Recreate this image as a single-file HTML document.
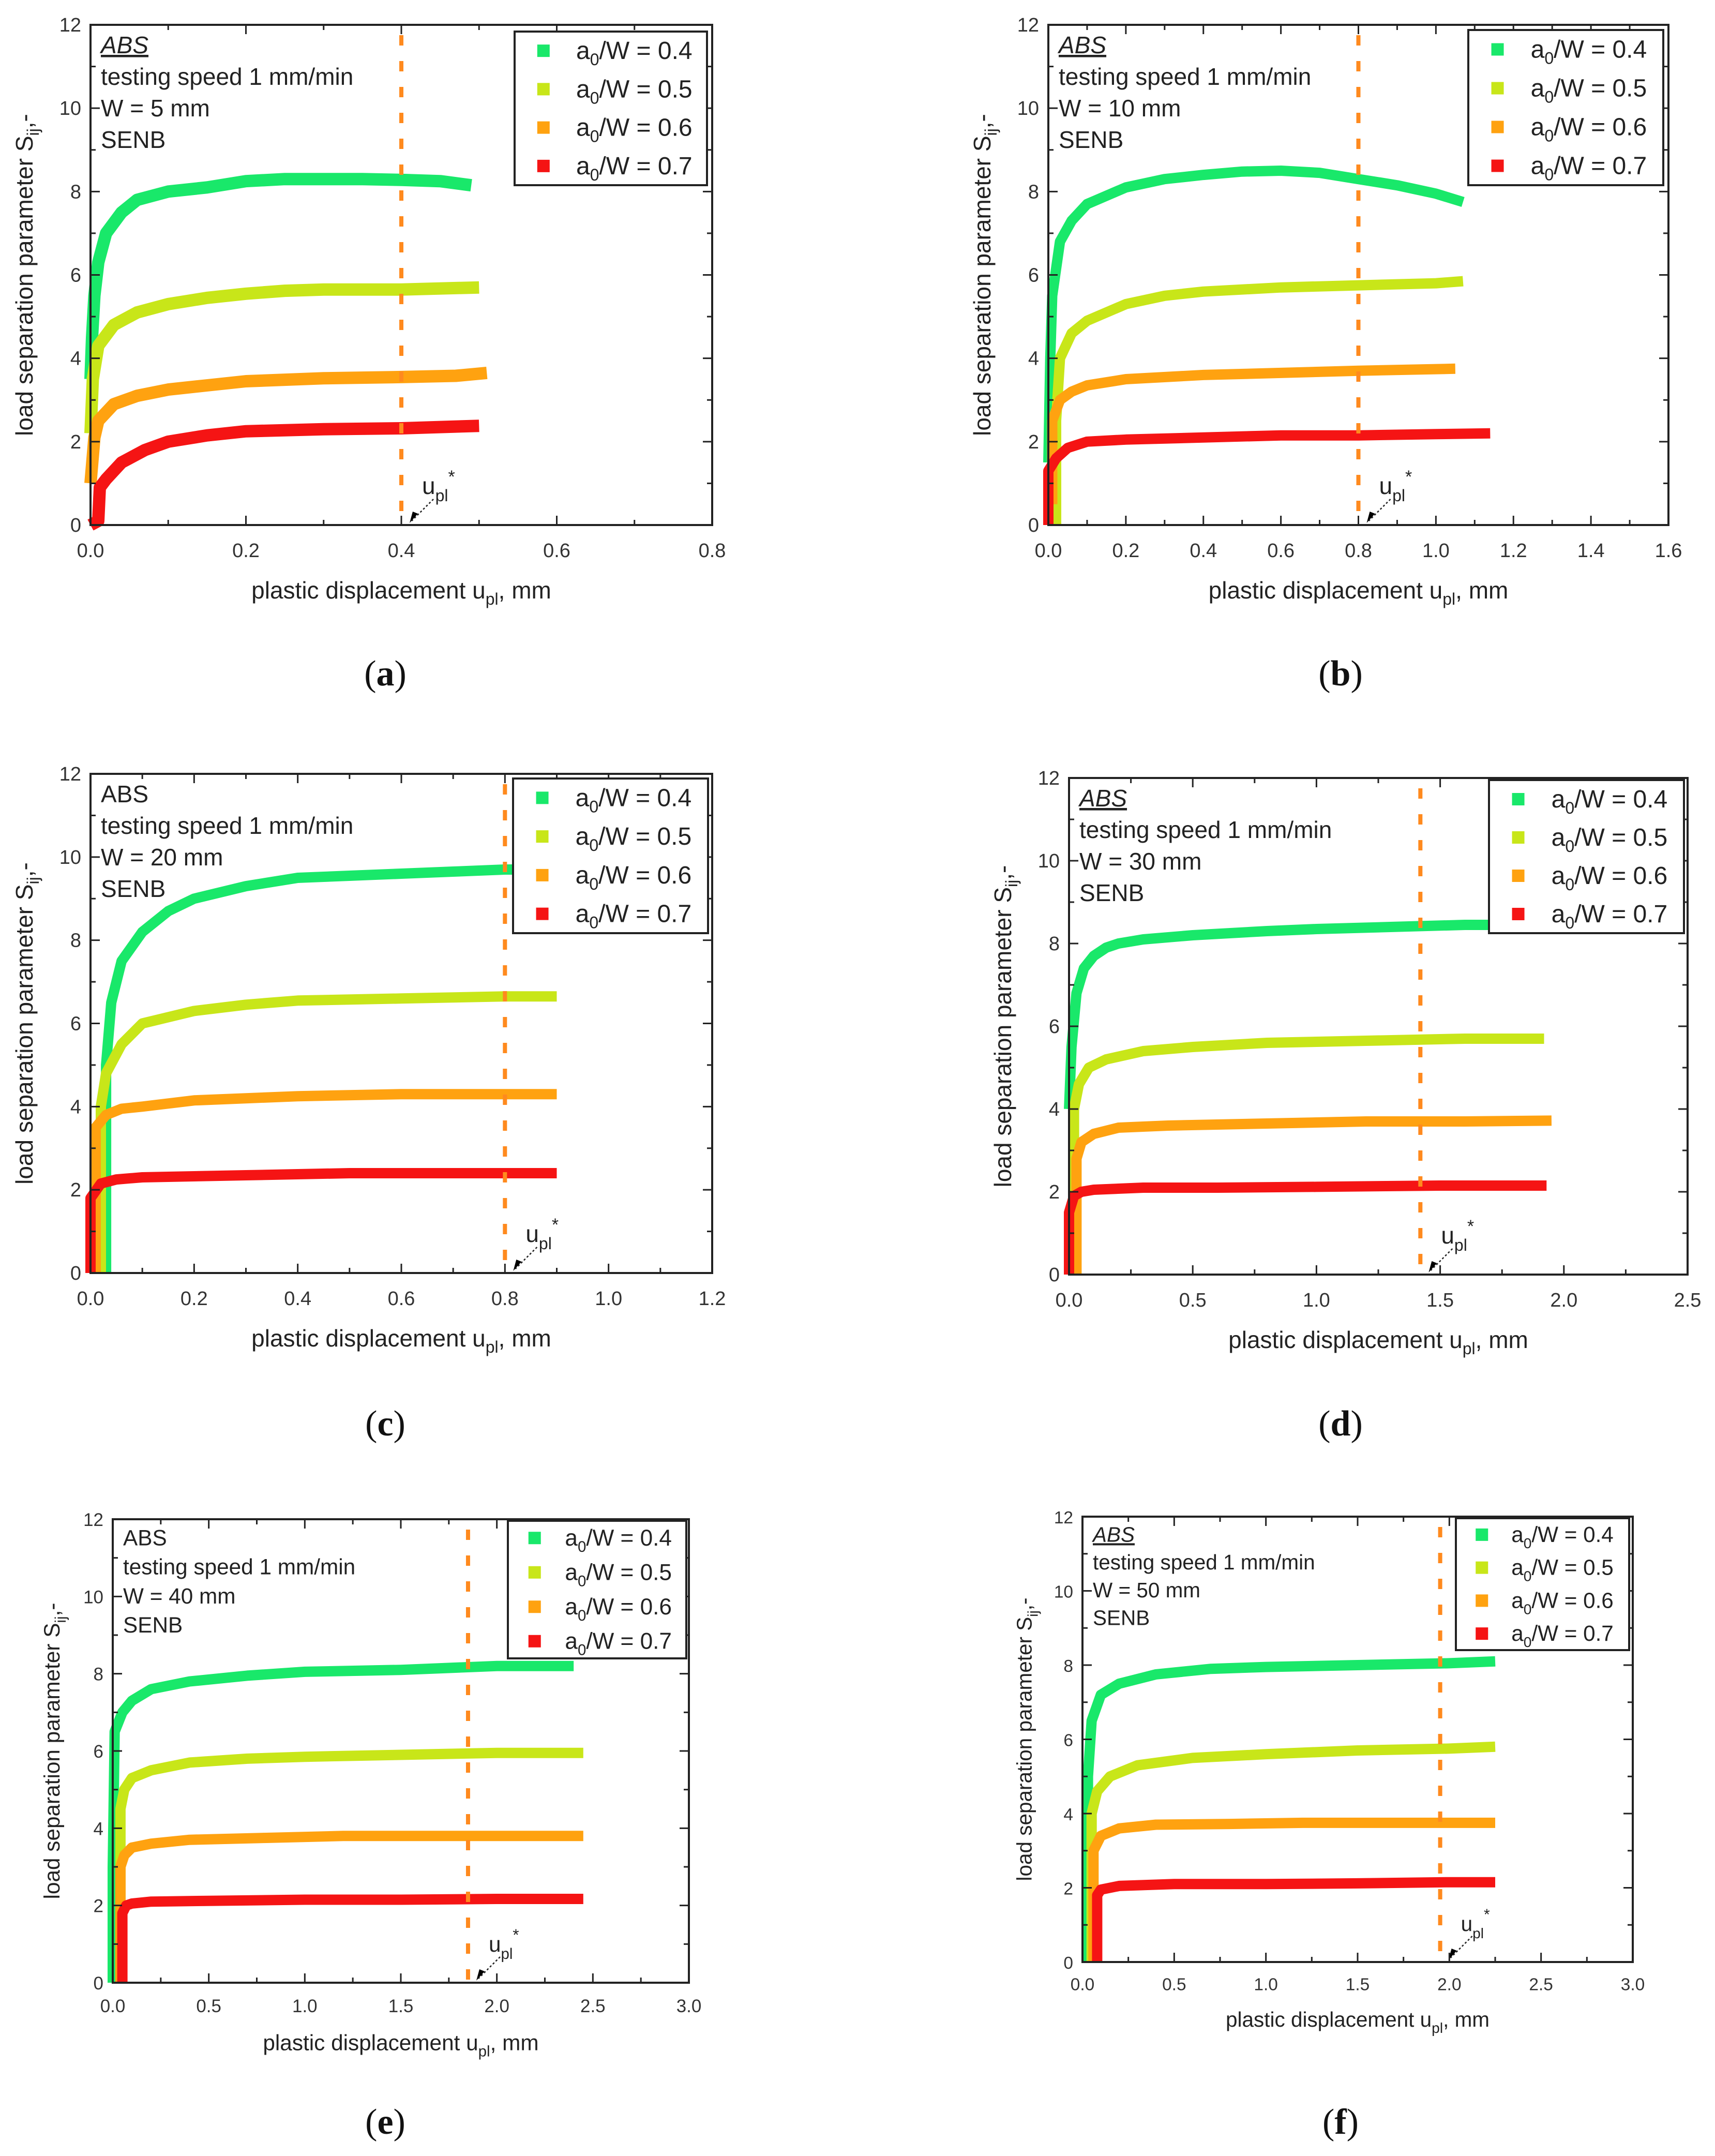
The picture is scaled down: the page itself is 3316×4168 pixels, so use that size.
<!DOCTYPE html>
<html><head><meta charset="utf-8"><style>
html,body{margin:0;padding:0;background:#fff;}
svg{display:block;}
text{font-family:"Liberation Sans",sans-serif;}
text.cap{font-family:"Liberation Serif",serif;}
</style></head>
<body>
<svg id="fig" width="3316" height="4168" viewBox="0 0 3316 4168" xmlns="http://www.w3.org/2000/svg"></svg>
<script>
// ---- data ----
const seriesLabels = ["0.4","0.5","0.6","0.7"];
const seriesColors = ["#19e86a","#c8e619","#ffa210","#f51414"];

const aX0=[0,0.002,0.005,0.01,0.02,0.04,0.06,0.1,0.15,0.2,0.25,0.3,0.35,0.4,0.45,0.49];
const aY0=[3.5,4.5,5.5,6.3,7.0,7.5,7.8,8.0,8.1,8.25,8.3,8.3,8.3,8.28,8.25,8.15];
const aX1=[0,0.003,0.01,0.03,0.06,0.1,0.15,0.2,0.25,0.3,0.4,0.5];
const aY1=[2.2,3.5,4.3,4.8,5.1,5.3,5.45,5.55,5.62,5.65,5.65,5.7];
const aX2=[0,0.005,0.01,0.03,0.06,0.1,0.15,0.2,0.3,0.4,0.47,0.51];
const aY2=[1,2.1,2.5,2.9,3.1,3.25,3.35,3.45,3.52,3.55,3.58,3.65];
const aX3=[0,0.01,0.012,0.02,0.04,0.07,0.1,0.15,0.2,0.3,0.4,0.5];
const aY3=[0,0.1,0.9,1.1,1.5,1.8,2.0,2.15,2.25,2.3,2.32,2.38];

const bX0=[0,0.005,0.01,0.03,0.06,0.1,0.2,0.3,0.4,0.5,0.6,0.7,0.8,0.9,1.0,1.07];
const bY0=[1.5,4,5.5,6.8,7.3,7.7,8.1,8.3,8.4,8.48,8.5,8.45,8.3,8.15,7.95,7.75];
const bX1=[0.02,0.02,0.03,0.06,0.1,0.2,0.3,0.4,0.6,0.8,1.0,1.07];
const bY1=[0,2.5,4,4.6,4.9,5.3,5.5,5.6,5.7,5.75,5.8,5.85];
const bX2=[0.01,0.01,0.03,0.06,0.1,0.2,0.4,0.6,0.8,1.05];
const bY2=[0.5,2.5,3,3.2,3.35,3.5,3.6,3.65,3.7,3.75];
const bX3=[0,0,0.02,0.05,0.1,0.2,0.4,0.6,0.8,1.0,1.14];
const bY3=[0,1.3,1.6,1.85,2.0,2.05,2.1,2.15,2.15,2.18,2.2];

const cX0=[0.03,0.03,0.04,0.06,0.1,0.15,0.2,0.3,0.4,0.5,0.6,0.7,0.8,0.83];
const cY0=[0,5,6.5,7.5,8.2,8.7,9.0,9.3,9.5,9.55,9.6,9.65,9.7,9.7];
const cX1=[0.02,0.02,0.03,0.06,0.1,0.2,0.3,0.4,0.6,0.8,0.9];
const cY1=[0,4,4.8,5.5,6.0,6.3,6.45,6.55,6.6,6.65,6.65];
const cX2=[0.01,0.01,0.03,0.06,0.1,0.2,0.4,0.6,0.8,0.9];
const cY2=[0,3.5,3.8,3.95,4.0,4.15,4.25,4.3,4.3,4.3];
const cX3=[0,0,0.02,0.05,0.1,0.3,0.5,0.7,0.9];
const cY3=[0,1.8,2.15,2.25,2.3,2.35,2.4,2.4,2.4];

const dX0=[0,0.01,0.03,0.06,0.1,0.15,0.2,0.3,0.5,0.8,1.0,1.3,1.6,1.7];
const dY0=[4,5.5,6.8,7.4,7.7,7.9,8.0,8.1,8.2,8.3,8.35,8.4,8.45,8.45];
const dX1=[0.02,0.02,0.04,0.08,0.15,0.3,0.5,0.8,1.2,1.6,1.92];
const dY1=[1.8,4.0,4.6,5.0,5.2,5.4,5.5,5.6,5.65,5.7,5.7];
const dX2=[0.03,0.03,0.05,0.1,0.2,0.4,0.8,1.2,1.6,1.95];
const dY2=[0,2.8,3.2,3.4,3.55,3.6,3.65,3.7,3.7,3.72];
const dX3=[0,0,0.02,0.05,0.1,0.3,0.6,1.0,1.5,1.93];
const dY3=[0,1.5,1.9,2.0,2.05,2.1,2.1,2.12,2.15,2.15];

const eX0=[0,0,0.01,0.05,0.1,0.2,0.4,0.7,1.0,1.5,2.0,2.4];
const eY0=[0,3,6.5,7.0,7.3,7.6,7.8,7.95,8.05,8.1,8.2,8.2];
const eX1=[0.04,0.04,0.06,0.1,0.2,0.4,0.7,1.0,1.5,2.0,2.45];
const eY1=[0,4.5,5.0,5.3,5.5,5.7,5.8,5.85,5.9,5.95,5.95];
const eX2=[0.04,0.04,0.06,0.1,0.2,0.4,0.8,1.2,1.6,2.0,2.45];
const eY2=[0,3.0,3.3,3.5,3.6,3.7,3.75,3.8,3.8,3.8,3.8];
const eX3=[0.05,0.05,0.07,0.1,0.2,0.5,1.0,1.5,2.0,2.45];
const eY3=[0,1.8,2.0,2.05,2.1,2.12,2.15,2.15,2.17,2.17];

const fX0=[0.03,0.03,0.05,0.1,0.2,0.4,0.7,1.0,1.5,2.0,2.25];
const fY0=[0,5,6.5,7.2,7.5,7.75,7.9,7.95,8.0,8.05,8.1];
const fX1=[0.05,0.05,0.08,0.15,0.3,0.6,1.0,1.5,2.0,2.25];
const fY1=[0,4,4.6,5.0,5.3,5.5,5.6,5.7,5.75,5.8];
const fX2=[0.06,0.06,0.1,0.2,0.4,0.8,1.2,1.6,2.0,2.25];
const fY2=[0,3.0,3.4,3.6,3.7,3.72,3.75,3.75,3.75,3.75];
const fX3=[0.08,0.08,0.1,0.2,0.5,1.0,1.5,2.0,2.25];
const fY3=[0,1.8,1.95,2.05,2.1,2.1,2.12,2.15,2.15];

const xTicksA=["0.0","0.2","0.4","0.6","0.8"];
const xTicksB=["0.0","0.2","0.4","0.6","0.8","1.0","1.2","1.4","1.6"];
const xTicksC=["0.0","0.2","0.4","0.6","0.8","1.0","1.2"];
const xTicksD=["0.0","0.5","1.0","1.5","2.0","2.5"];
const xTicksEF=["0.0","0.5","1.0","1.5","2.0","2.5","3.0"];
const yTicks=["0","2","4","6","8","10","12"];
const widths=["5","10","20","30","40","50"];
const upStar=[0.4,0.8,0.8,1.42,1.85,1.95];

// ---- layout ----
const panels=[
 {id:"a",L:175,R:1377,T:48,B:1015,xmax:0.8,xt:xTicksA,X:[aX0,aX1,aX2,aX3],Y:[aY0,aY1,aY2,aY3],leg:[995,61,1367,358],ital:true,fs:1,cap:[745,1325],sq:true},
 {id:"b",L:2027,R:3226,T:48,B:1015,xmax:1.6,xt:xTicksB,X:[bX0,bX1,bX2,bX3],Y:[bY0,bY1,bY2,bY3],leg:[2839,58,3216,358],ital:true,fs:1,cap:[2592,1325]},
 {id:"c",L:175,R:1377,T:1496,B:2461,xmax:1.2,xt:xTicksC,X:[cX0,cX1,cX2,cX3],Y:[cY0,cY1,cY2,cY3],leg:[992,1505,1369,1804],ital:false,fs:1,cap:[745,2775]},
 {id:"d",L:2067,R:3263,T:1504,B:2464,xmax:2.5,xt:xTicksD,X:[dX0,dX1,dX2,dX3],Y:[dY0,dY1,dY2,dY3],leg:[2879,1508,3256,1804],ital:true,fs:1,cap:[2592,2775]},
 {id:"e",L:218,R:1332,T:2937,B:3833,xmax:3,xt:xTicksEF,X:[eX0,eX1,eX2,eX3],Y:[eY0,eY1,eY2,eY3],leg:[982,2940,1327,3206],ital:false,fs:0.92,cap:[745,4125]},
 {id:"f",L:2093,R:3157,T:2932,B:3793,xmax:3,xt:xTicksEF,X:[fX0,fX1,fX2,fX3],Y:[fY0,fY1,fY2,fY3],leg:[2815,2935,3150,3190],ital:true,fs:0.88,cap:[2592,4125]}
];
const NS="http://www.w3.org/2000/svg";
const svg=document.getElementById("fig");
function mk(tag,attrs,parent){const e=document.createElementNS(NS,tag);for(const k in attrs)e.setAttribute(k,attrs[k]);(parent||svg).appendChild(e);return e;}

panels.forEach((p,pi)=>{
 const g=mk("g",{});
 
 
 const sx=v=>p.L+(v/p.xmax)*(p.R-p.L);
 const sy=v=>p.B-(v/12)*(p.B-p.T);
 const fs=p.fs;
 p.X.forEach((xs,si)=>{
  const pts=xs.map((x,i)=>sx(x).toFixed(1)+","+sy(p.Y[si][i]).toFixed(1)).join(" ");
  const pl=mk("polyline",{points:pts,fill:"none",stroke:seriesColors[si],"stroke-width":p.sq?24:20,"stroke-linejoin":"round"},g);
  
  
 });
 const dl=mk("line",{x1:sx(upStar[pi]),x2:sx(upStar[pi]),y1:p.T+20,y2:p.B,stroke:"#ff8a1e","stroke-width":8,"stroke-dasharray":"20 30"},g);
 
 
 const ux=sx(upStar[pi]);
 const ul=mk("text",{x:ux+40,y:p.B-60,"font-size":46*fs,fill:"#222"},g);
 ul.innerHTML='u<tspan font-size="'+32*fs+'" dy="14">pl</tspan><tspan font-size="'+34*fs+'" dy="-36">*</tspan>';
 
 
 const ar=mk("line",{x1:ux+62,x2:ux+20,y1:p.B-50,y2:p.B-8,stroke:"#222","stroke-width":2.5,"stroke-dasharray":"4 4"},g);
 
 
 mk("polygon",{points:(ux+16)+","+(p.B-4)+" "+(ux+32)+","+(p.B-22)+" "+(ux+22)+","+(p.B-26)},g);
 const fr=mk("rect",{x:p.L,y:p.T,width:p.R-p.L,height:p.B-p.T,fill:"none",stroke:"#222","stroke-width":4},g);
 
 
 const nx=p.xt.length;
 for(let i=0;i<nx;i++){
  const v=p.xmax*i/(nx-1), x=sx(v);
  mk("line",{x1:x,x2:x,y1:p.B,y2:p.B-18,stroke:"#222","stroke-width":3},g);
  mk("line",{x1:x,x2:x,y1:p.T,y2:p.T+18,stroke:"#222","stroke-width":3},g);
  if(i<nx-1){const xm=sx(v+p.xmax/(nx-1)/2);
   mk("line",{x1:xm,x2:xm,y1:p.B,y2:p.B-10,stroke:"#222","stroke-width":3},g);
   mk("line",{x1:xm,x2:xm,y1:p.T,y2:p.T+10,stroke:"#222","stroke-width":3},g);}
  const t=mk("text",{x:x,y:p.B+62*fs,"font-size":38*fs,"text-anchor":"middle",fill:"#333"},g);
  t.textContent=p.xt[i];
  
  
 }
 yTicks.forEach((lab,i)=>{
  const y=sy(+lab);
  mk("line",{x1:p.L,x2:p.L+18,y1:y,y2:y,stroke:"#222","stroke-width":3},g);
  mk("line",{x1:p.R,x2:p.R-18,y1:y,y2:y,stroke:"#222","stroke-width":3},g);
  if(i<6){const ym=sy(+lab+1);
   mk("line",{x1:p.L,x2:p.L+10,y1:ym,y2:ym,stroke:"#222","stroke-width":3},g);
   mk("line",{x1:p.R,x2:p.R-10,y1:ym,y2:ym,stroke:"#222","stroke-width":3},g);}
  const t=mk("text",{x:p.L-18,y:y+13,"font-size":38*fs,"text-anchor":"end",fill:"#333"},g);
  t.textContent=lab;
  
  
 });
 const xt=mk("text",{x:(p.L+p.R)/2,y:p.B+142*fs,"font-size":46*fs,"text-anchor":"middle",fill:"#222"},g);
 xt.innerHTML='plastic displacement u<tspan font-size="'+32*fs+'" dy="12">pl</tspan><tspan dy="-12">, mm</tspan>';
 
 
 const cy=(p.T+p.B)/2, cx=p.L-112*fs;
 const yt=mk("text",{x:cx,y:cy,"font-size":46*fs,"text-anchor":"middle",fill:"#222",transform:"rotate(-90 "+cx+" "+cy+")"},g);
 yt.innerHTML='load separation parameter S<tspan font-size="'+32*fs+'" dy="12">ij</tspan><tspan dy="-12">,-</tspan>';
 
 
 const ax=p.L+20, ay=p.T+55*fs, lh=61*fs;
 const abs=mk("text",{x:ax,y:ay,"font-size":46*fs,fill:"#222","font-style":p.ital?"italic":"normal","text-decoration":p.ital?"underline":"none"},g);
 abs.textContent="ABS";
 
 
 ["testing speed 1 mm/min","W = "+widths[pi]+" mm","SENB"].forEach((s,k)=>{
  const t=mk("text",{x:ax,y:ay+lh*(k+1),"font-size":46*fs,fill:"#222"},g);
  t.textContent=s;
  
  
 });
 const [lx1,ly1,lx2,ly2]=p.leg;
 const lg=mk("g",{},g);
 
 
 mk("rect",{x:lx1,y:ly1,width:lx2-lx1,height:ly2-ly1,fill:"#fff",stroke:"#222","stroke-width":4},lg);
 const rh=(ly2-ly1)/4;
 seriesLabels.forEach((lab,si)=>{
  const ry=ly1+rh*(si+0.5);
  const e=mk("g",{},lg);
  
  
  mk("rect",{x:lx1+(lx2-lx1)*0.15-12,y:ry-12,width:24,height:24,fill:seriesColors[si]},e);
  const t=mk("text",{x:lx1+(lx2-lx1)*0.32,y:ry+16*fs,"font-size":48*fs,fill:"#222"},e);
  t.innerHTML='a<tspan font-size="'+32*fs+'" dy="12">0</tspan><tspan dy="-12">/W = '+lab+'</tspan>';
 });
 const c=mk("text",{x:p.cap[0],y:p.cap[1],"font-size":70,"text-anchor":"middle",fill:"#111",class:"cap"},svg);
 c.innerHTML='(<tspan font-weight="bold">'+p.id+'</tspan>)';
 
 
});
</script>
</body></html>
